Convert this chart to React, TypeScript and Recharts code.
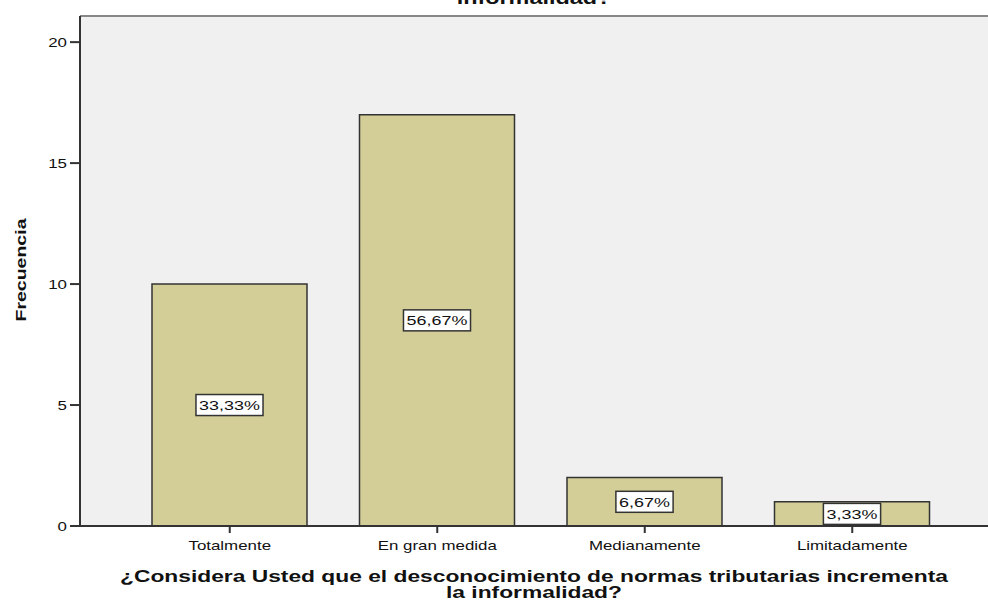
import { Bar, BarChart, CartesianGrid, LabelList, ReferenceLine, XAxis, YAxis } from "recharts";

const categories = ["Totalmente", "En gran medida", "Medianamente", "Limitadamente"];
const frequencies = [10, 17, 2, 1];
const percents = ["33,33%", "56,67%", "6,67%", "3,33%"];
const yTicks = [0, 5, 10, 15, 20];

const data = categories.map((name, i) => ({ name, value: frequencies[i], pct: percents[i] }));

const FONT = "Arial, 'Liberation Sans', sans-serif";
const SX = 1.3; // the reference text is horizontally stretched

const pctLabel = (props: any) => {
  const { x, y, width, height, index } = props;
  const text = percents[index];
  const w = text.length * 7.4 * 1.33 + 8;
  const cx = x + width / 2;
  const cy = y + height / 2;
  return (
    <g>
      <rect x={cx - w / 2} y={cy - 10.5} width={w} height={21} fill="#fff" stroke="#333" strokeWidth={1.5} />
      <text transform={`translate(${cx},${cy + 5}) scale(1.33,1)`} textAnchor="middle" fontSize={13.5} fontFamily={FONT} fill="#111">
        {text}
      </text>
    </g>
  );
};

const XTick = (props: any) => {
  const { x, y, payload } = props;
  return (
    <text transform={`translate(${x},${y + 15}) scale(${SX},1)`} textAnchor="middle" fontSize={13} fontFamily={FONT} fill="#111">
      {payload.value}
    </text>
  );
};

const YTick = (props: any) => {
  const { x, y, payload } = props;
  return (
    <text transform={`translate(${x},${y + 5}) scale(${SX},1)`} textAnchor="end" fontSize={13} fontFamily={FONT} fill="#111">
      {payload.value}
    </text>
  );
};

export default function App() {
  return (
    <div style={{ position: "relative", width: 988, height: 603, background: "#fff", overflow: "hidden" }}>
      <style>{`body{margin:0}`}</style>
      <BarChart
        width={988}
        height={603}
        data={data}
        margin={{ top: 16, right: 0, bottom: 47, left: 0 }}
        barCategoryGap={0}
      >
        <CartesianGrid fill="#f0f0f0" horizontal={false} vertical={false} />
        <ReferenceLine y={21.08} stroke="#888" strokeWidth={2} ifOverflow="extendDomain" />
        <XAxis
          dataKey="name"
          height={30}
          padding={{ left: 46, right: 32 }}
          stroke="#333"
          strokeWidth={2}
          tickSize={7}
          tickMargin={2}
          tick={<XTick />}
        />
        <YAxis
          width={80}
          domain={[0, 21.08]}
          ticks={yTicks}
          allowDataOverflow
          stroke="#333"
          strokeWidth={2}
          tickSize={10}
          tickMargin={3}
          tick={<YTick />}
        />
        <Bar dataKey="value" fill="#d3ce98" stroke="#333" strokeWidth={1.5} barSize={155} isAnimationActive={false}>
          <LabelList dataKey="pct" content={pctLabel} />
        </Bar>
      </BarChart>
      <div style={{ position: "absolute", left: 80, width: 908, top: -12, textAlign: "center", fontFamily: FONT, fontWeight: "bold", fontSize: 18, color: "#111", transform: `scaleX(${SX})` }}>
        informalidad?
      </div>
      <div style={{ position: "absolute", left: 80, width: 908, top: 569, textAlign: "center", fontFamily: FONT, fontWeight: "bold", fontSize: 17, lineHeight: "16px", color: "#111", transform: "scaleX(1.34)", whiteSpace: "nowrap" }}>
        ¿Considera Usted que el desconocimiento de normas tributarias incrementa
        <br />
        la informalidad?
      </div>
      <div style={{ position: "absolute", left: 20, top: 270, transform: "translate(-50%, -50%) rotate(-90deg) scaleX(1.3)", fontFamily: FONT, fontWeight: "bold", fontSize: 15, color: "#111", whiteSpace: "nowrap" }}>
        Frecuencia
      </div>
    </div>
  );
}
